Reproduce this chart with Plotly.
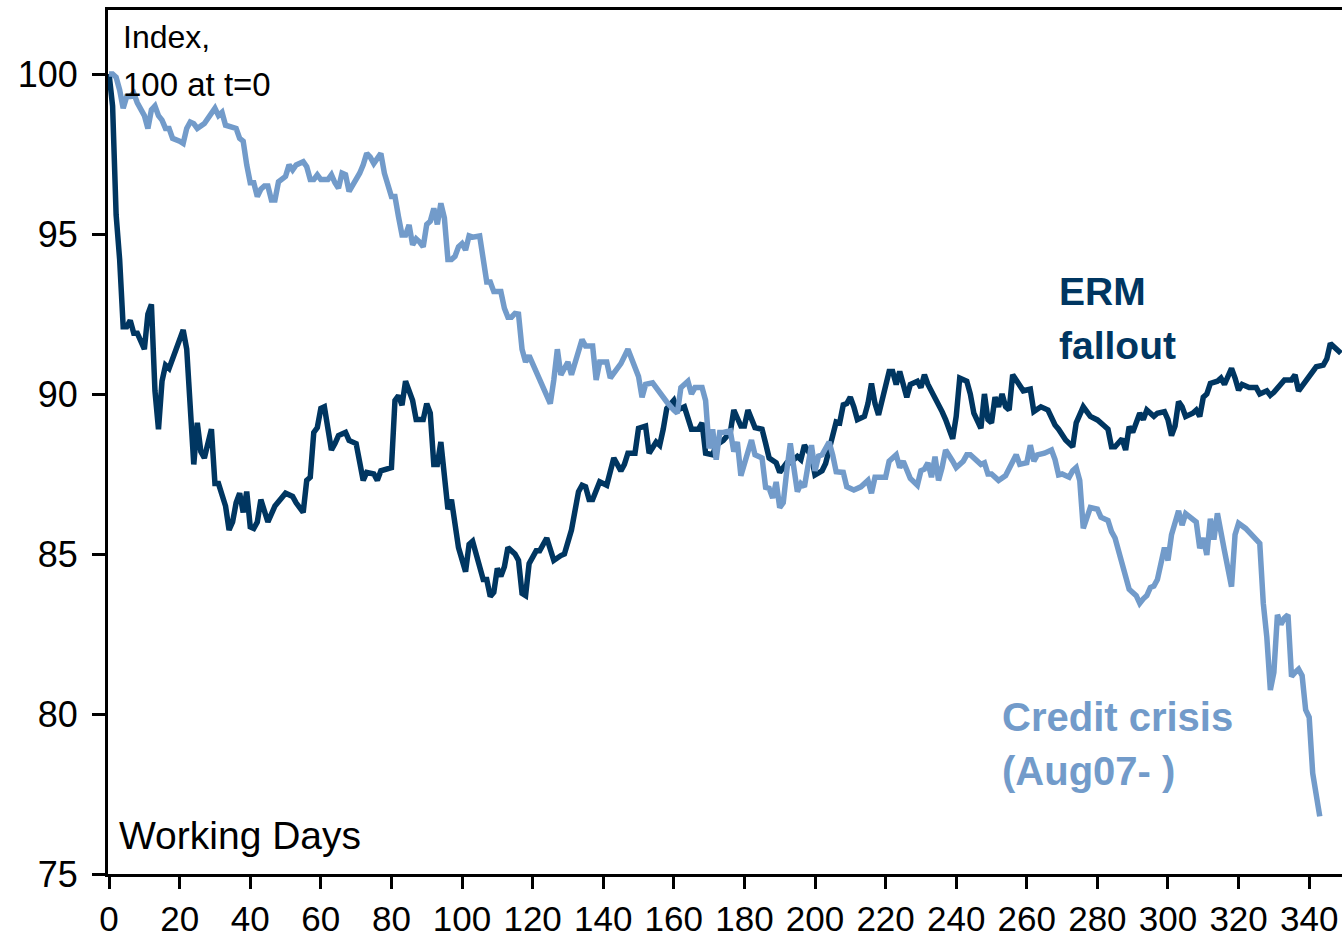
import plotly.graph_objects as go

# ---------------- data ----------------
erm_days = [0, 1, 2, 3, 4, 5, 6, 7, 8, 9, 10, 11, 12, 13, 14, 15, 16, 17, 19, 20,
            21, 22, 23, 24, 25, 26, 27, 29, 30, 31, 33, 34, 35, 36, 37, 38, 39, 40, 41, 42,
            43, 45, 47, 49, 50, 52, 53, 55, 56, 57, 58, 59, 60, 61, 63, 64, 65, 67, 68, 70,
            72, 73, 75, 76, 77, 80, 81, 82, 83, 84, 86, 87, 89, 90, 91, 92, 93, 94, 96, 97,
            99, 101, 102, 103, 105, 106, 107, 108, 109, 110, 111, 112, 113, 115, 116, 117, 118, 119, 121, 122,
            124, 125, 126, 128, 129, 131, 133, 134, 135, 136, 137, 139, 140, 141, 143, 145, 146, 147, 149, 150,
            152, 153, 155, 156, 157, 158, 160, 161, 162, 163, 165, 167, 168, 169, 171, 172, 174, 176, 177, 179,
            180, 181, 183, 185, 186, 187, 189, 190, 192, 193, 195, 196, 197, 199, 200, 202, 203, 205, 206, 207,
            208, 209, 210, 211, 212, 213, 214, 215, 216, 217, 218, 219, 221, 222, 223, 224, 226, 227, 229, 230,
            231, 232, 233, 234, 236, 237, 239, 240, 241, 243, 244, 245, 247, 248, 249, 250, 251, 252, 253, 254,
            255, 256, 258, 259, 261, 262, 264, 266, 268, 269, 271, 273, 274, 276, 278, 280, 282, 283, 284, 285,
            287, 288, 289, 290, 292, 293, 294, 296, 297, 299, 300, 301, 302, 303, 304, 305, 307, 308, 309, 310,
            311, 312, 314, 315, 316, 317, 318, 319, 320, 321, 323, 325, 326, 328, 329, 330, 331, 333, 335, 336,
            337, 339, 340, 342, 344, 345, 346, 348, 349]
erm_vals = [100.0, 99.0, 95.6, 94.2, 92.1, 92.1, 92.3, 91.9, 91.9, 91.6, 91.4, 92.5, 92.8, 90.1, 88.9, 90.4, 90.9, 90.8, 91.4, 91.6,
            92.0, 91.4, 89.4, 87.8, 89.1, 88.2, 88.0, 88.9, 87.2, 87.2, 86.5, 85.75, 86.0, 86.6, 86.9, 86.3, 86.95, 85.85, 85.8, 86.0,
            86.7, 86.0, 86.5, 86.8, 86.9, 86.8, 86.6, 86.3, 87.3, 87.4, 88.8, 88.95, 89.55, 89.6, 88.25, 88.45, 88.7, 88.8, 88.55, 88.45,
            87.3, 87.55, 87.5, 87.3, 87.6, 87.7, 89.8, 89.95, 89.65, 90.4, 89.8, 89.2, 89.2, 89.7, 89.4, 87.8, 87.8, 88.5, 86.4, 86.7,
            85.2, 84.45, 85.3, 85.4, 84.6, 84.2, 84.2, 83.67, 83.8, 84.55, 84.3, 84.6, 85.2, 85.0, 84.8, 83.77, 83.7, 84.7, 85.1, 85.1,
            85.5, 85.1, 84.8, 84.95, 85.0, 85.75, 86.95, 87.15, 87.1, 86.7, 86.7, 87.26, 87.2, 87.15, 88.0, 87.6, 87.8, 88.15, 88.15, 88.93,
            89.0, 88.15, 88.5, 88.4, 88.9, 89.55, 89.8, 89.5, 89.55, 89.6, 88.9, 88.9, 89.1, 88.15, 88.1, 88.4, 88.55, 88.8, 89.5, 89.0,
            89.0, 89.5, 88.95, 88.9, 88.46, 88.0, 87.85, 87.55, 87.85, 87.85, 88.05, 87.95, 88.4, 88.05, 87.47, 87.6, 87.83, 88.77, 89.13, 89.1,
            89.66, 89.7, 89.9, 89.6, 89.2, 89.25, 89.3, 89.7, 90.33, 89.7, 89.35, 89.8, 90.7, 90.7, 90.3, 90.7, 89.9, 90.3, 90.4, 90.2,
            90.6, 90.3, 90.1, 89.9, 89.45, 89.2, 88.6, 89.3, 90.5, 90.4, 90.0, 89.4, 88.93, 90.0, 89.2, 89.1, 89.9, 89.6, 90.0, 89.6,
            89.5, 90.6, 90.3, 90.1, 90.15, 89.45, 89.6, 89.5, 89.03, 88.9, 88.56, 88.35, 89.1, 89.6, 89.3, 89.19, 89.0, 88.9, 88.35, 88.35,
            88.6, 88.25, 88.98, 88.8, 89.4, 89.2, 89.5, 89.3, 89.4, 89.45, 89.2, 88.7, 89.0, 89.76, 89.6, 89.3, 89.4, 89.5, 89.3, 89.9,
            90.0, 90.33, 90.4, 90.5, 90.3, 90.6, 90.8, 90.5, 90.12, 90.3, 90.2, 90.2, 90.0, 90.1, 89.96, 90.05, 90.2, 90.44, 90.44, 90.6,
            90.1, 90.4, 90.6, 90.85, 90.9, 91.1, 91.58, 91.4, 91.27]

cc_days = [0, 1, 2, 3, 4, 5, 6, 7, 8, 9, 10, 11, 12, 13, 14, 15, 16, 17, 18, 20,
           21, 22, 23, 24, 25, 27, 28, 30, 31, 32, 33, 35, 36, 37, 38, 39, 40, 41, 42, 43,
           44, 45, 46, 47, 48, 50, 51, 52, 53, 55, 56, 57, 58, 59, 60, 62, 63, 64, 65, 66,
           67, 68, 70, 71, 72, 73, 74, 75, 77, 78, 80, 81, 82, 83, 84, 85, 86, 87, 88, 89,
           90, 91, 92, 93, 94, 95, 96, 97, 98, 99, 100, 101, 102, 103, 105, 107, 108, 109, 111, 112,
           113, 114, 115, 116, 117, 118, 119, 121, 122, 123, 125, 126, 127, 128, 130, 131, 132, 133, 134, 135,
           137, 138, 139, 141, 142, 144, 145, 147, 149, 150, 151, 152, 154, 155, 157, 158, 160, 161, 162, 164,
           165, 166, 168, 169, 170, 171, 172, 173, 174, 176, 177, 178, 179, 180, 182, 183, 185, 186, 187, 188,
           189, 190, 191, 192, 193, 195, 196, 197, 198, 199, 200, 201, 202, 204, 205, 206, 208, 209, 211, 213,
           215, 216, 217, 218, 220, 221, 223, 224, 225, 227, 229, 230, 231, 232, 233, 234, 235, 236, 237, 239,
           240, 242, 243, 244, 246, 247, 248, 249, 250, 252, 254, 255, 257, 258, 260, 261, 262, 263, 265, 267,
           268, 269, 270, 272, 273, 274, 275, 276, 277, 278, 280, 281, 283, 284, 285, 286, 287, 288, 289, 291,
           292, 293, 294, 295, 296, 297, 298, 299, 300, 301, 303, 304, 305, 307, 308, 309, 310, 311, 312, 313,
           314, 316, 318, 319, 320, 322, 324, 325, 326, 327, 328, 329, 330, 331, 332, 333, 334, 335, 336, 337,
           338, 339, 340, 341, 343]
cc_vals = [100.0, 100.0, 99.9, 99.5, 98.93, 99.3, 99.3, 99.4, 99.1, 98.9, 98.7, 98.3, 98.88, 99.0, 98.7, 98.56, 98.3, 98.3, 97.99, 97.9,
           97.83, 98.3, 98.5, 98.45, 98.3, 98.45, 98.6, 98.93, 98.7, 98.8, 98.4, 98.35, 98.3, 97.99, 97.9, 97.16, 96.6, 96.6, 96.17, 96.4,
           96.5, 96.5, 96.06, 96.06, 96.63, 96.8, 97.16, 97.0, 97.16, 97.26, 97.1, 96.7, 96.7, 96.85, 96.7, 96.7, 96.85, 96.6, 96.43, 96.9,
           96.85, 96.33, 96.7, 96.9, 97.16, 97.52, 97.4, 97.2, 97.52, 96.9, 96.17, 96.17, 95.54, 94.97, 94.97, 95.28, 94.66, 94.85, 94.75, 94.6,
           95.3, 95.4, 95.8, 95.3, 95.96, 95.5, 94.2, 94.2, 94.3, 94.6, 94.7, 94.5, 94.94, 94.9, 94.94, 93.5, 93.5, 93.2, 93.2, 92.68,
           92.4, 92.4, 92.52, 92.5, 91.4, 91.0, 91.2, 90.7, 90.4, 90.18, 89.7, 90.44, 91.4, 90.6, 91.0, 90.6, 90.95, 91.25, 91.7, 91.5,
           91.5, 90.44, 91.0, 91.0, 90.5, 90.8, 90.95, 91.4, 90.75, 90.55, 89.9, 90.3, 90.35, 90.2, 89.86, 89.75, 89.5, 89.4, 90.2, 90.4,
           90.0, 90.2, 90.2, 89.8, 88.3, 88.9, 87.95, 88.8, 88.8, 88.85, 88.2, 88.5, 87.45, 87.8, 88.56, 88.1, 88.0, 87.08, 87.05, 86.75,
           87.25, 86.45, 86.6, 87.6, 88.46, 86.95, 87.2, 87.1, 87.7, 88.4, 87.6, 88.06, 88.1, 88.5, 88.1, 87.57, 87.55, 87.1, 87.0, 87.1,
           87.3, 86.9, 87.4, 87.4, 87.4, 87.9, 88.1, 87.7, 87.9, 87.36, 87.15, 87.6, 87.65, 87.85, 87.4, 88.04, 87.3, 87.7, 88.25, 87.9,
           87.7, 87.9, 88.1, 88.1, 87.9, 87.8, 87.85, 87.5, 87.5, 87.3, 87.45, 87.7, 88.1, 87.8, 87.85, 88.4, 87.9, 88.1, 88.15, 88.25,
           87.95, 87.47, 87.5, 87.4, 87.6, 87.7, 87.3, 85.8, 86.15, 86.45, 86.4, 86.15, 86.05, 85.7, 85.5, 85.1, 84.6, 84.3, 83.9, 83.7,
           83.46, 83.6, 83.7, 83.95, 84.0, 84.2, 84.75, 85.2, 84.8, 85.6, 86.35, 85.9, 86.26, 86.1, 86.0, 85.18, 85.5, 84.97, 86.1, 85.45,
           86.27, 85.1, 83.98, 85.6, 85.96, 85.8, 85.6, 85.45, 85.33, 83.46, 82.4, 80.75, 81.3, 83.1, 82.8, 83.0, 83.1, 81.17, 81.3, 81.4,
           81.2, 80.13, 79.9, 78.15, 76.8]

x_ticks = [0, 20, 40, 60, 80, 100, 120, 140, 160, 180, 200, 220, 240, 260, 280, 300, 320, 340]
y_ticks = [75, 80, 85, 90, 95, 100]

# ---------------- styling ----------------
W, H = 1342, 938
ML, MR, MT, MB = 108, 0, 10, 64
FONT = "Liberation Sans, Arial, sans-serif"
DARK = "#003661"
LIGHT = "#729BCA"


def px(xp):
    return (xp - ML) / (W - ML - MR)


def py(yp):
    return (H - MB - yp) / (H - MT - MB)


fig = go.Figure()
fig.add_trace(go.Scatter(x=erm_days, y=erm_vals, mode="lines", name="ERM fallout",
                         line=dict(color=DARK, width=5.5), showlegend=False))
fig.add_trace(go.Scatter(x=cc_days, y=cc_vals, mode="lines", name="Credit crisis",
                         line=dict(color=LIGHT, width=5.5), showlegend=False))

annots = [
    dict(text="Index,", x=px(121), y=py(37), size=32, color="black", bold=False),
    dict(text="100 at t=0", x=px(121), y=py(84), size=33, color="black", bold=False),
    dict(text="Working Days", x=px(117), y=py(835), size=39, color="black", bold=False),
    dict(text="ERM", x=px(1057), y=py(292), size=39, color=DARK, bold=True),
    dict(text="fallout", x=px(1057), y=py(346), size=39, color=DARK, bold=True),
    dict(text="Credit crisis", x=px(1000), y=py(717), size=40, color=LIGHT, bold=True),
    dict(text="(Aug07- )", x=px(1000), y=py(771), size=40, color=LIGHT, bold=True),
]
annotations = []
for a in annots:
    t = "<b>%s</b>" % a["text"] if a["bold"] else a["text"]
    annotations.append(dict(text=t, x=a["x"], y=a["y"], xref="paper", yref="paper",
                            xanchor="left", yanchor="middle", showarrow=False,
                            font=dict(family=FONT, size=a["size"], color=a["color"])))

fig.update_layout(
    width=W, height=H,
    margin=dict(l=ML, r=MR, t=MT, b=MB, pad=0, autoexpand=False),
    paper_bgcolor="white", plot_bgcolor="white",
    font=dict(family=FONT, size=36, color="black"),
    annotations=annotations,
    xaxis=dict(range=[-0.3, 349.3], tickvals=x_ticks, ticktext=[str(v) for v in x_ticks],
               showgrid=False, zeroline=False, showline=True, linecolor="black", linewidth=3,
               mirror=True, ticks="outside", ticklen=12, tickwidth=2.5, tickcolor="black",
               ticklabelstandoff=0, automargin=False,
               tickfont=dict(family=FONT, size=35, color="black")),
    yaxis=dict(range=[75, 102], tickvals=y_ticks, ticktext=[str(v) for v in y_ticks],
               showgrid=False, zeroline=False, showline=True, linecolor="black", linewidth=3,
               ticks="outside", ticklen=13, tickwidth=2.5, tickcolor="black",
               ticklabelstandoff=7, automargin=False,
               tickfont=dict(family=FONT, size=36, color="black")),
)

fig.write_html("out.html", config={"displayModeBar": False},
               post_script="document.body.style.margin='0';document.body.style.padding='0';"
                           "document.body.style.overflow='hidden';")
